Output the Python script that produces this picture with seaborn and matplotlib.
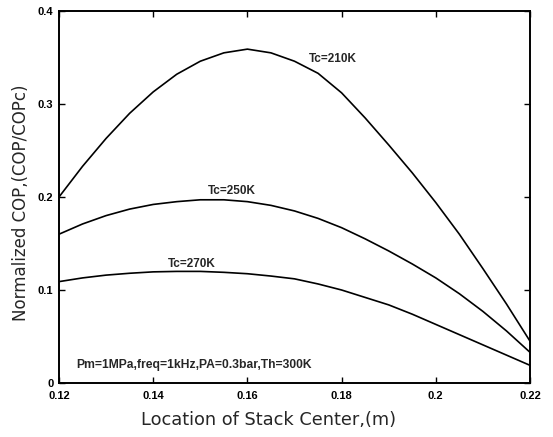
import matplotlib
matplotlib.use("Agg")
import matplotlib.pyplot as plt
import seaborn as sns
import pandas as pd

# stack centre location (m)
x_loc = [0.12, 0.125, 0.13, 0.135, 0.14, 0.145, 0.15, 0.155, 0.16, 0.165, 0.17,
         0.175, 0.18, 0.185, 0.19, 0.195, 0.20, 0.205, 0.21, 0.215, 0.22]

# normalized COP
cop_210 = [0.200, 0.233, 0.263, 0.290, 0.313, 0.332, 0.346, 0.355, 0.359, 0.355, 0.346,
           0.333, 0.312, 0.285, 0.256, 0.226, 0.194, 0.160, 0.123, 0.085, 0.045]
cop_250 = [0.160, 0.171, 0.180, 0.187, 0.192, 0.195, 0.197, 0.197, 0.195, 0.191, 0.185,
           0.177, 0.167, 0.155, 0.142, 0.128, 0.113, 0.096, 0.077, 0.056, 0.033]
cop_270 = [0.109, 0.113, 0.116, 0.118, 0.1195, 0.120, 0.120, 0.119, 0.1175, 0.115, 0.112,
           0.1065, 0.100, 0.092, 0.084, 0.074, 0.063, 0.052, 0.041, 0.030, 0.019]

curve_names = ["Tc=210K", "Tc=250K", "Tc=270K"]
label_x = [0.1781, 0.1566, 0.1481]
label_y = [0.348, 0.2065, 0.128]

xticks = [0.12, 0.14, 0.16, 0.18, 0.2, 0.22]
xtick_labels = ["0.12", "0.14", "0.16", "0.18", "0.2", "0.22"]
yticks = [0, 0.1, 0.2, 0.3, 0.4]
ytick_labels = ["0", "0.1", "0.2", "0.3", "0.4"]

note = "Pm=1MPa,freq=1kHz,PA=0.3bar,Th=300K"

sns.set_style("ticks")
plt.rcParams['font.family'] = ['DejaVu Sans']

df = pd.DataFrame({"x": x_loc, "Tc=210K": cop_210, "Tc=250K": cop_250, "Tc=270K": cop_270})

fig = plt.figure(figsize=(5.53, 4.37), dpi=100)
ax = fig.add_axes([59 / 553, 1 - 383 / 437, (530 - 59) / 553, (383 - 11) / 437])

for name in curve_names:
    sns.lineplot(data=df, x="x", y=name, color="black", linewidth=1.2, ax=ax)

ax.set_xlim(0.12, 0.22)
ax.set_ylim(0, 0.4)
ax.set_xticks(xticks)
ax.set_xticklabels(xtick_labels, fontfamily="Liberation Sans", fontweight="bold", fontsize=8)
ax.set_yticks(yticks)
ax.set_yticklabels(ytick_labels, fontfamily="Liberation Sans", fontweight="bold", fontsize=8)
ax.tick_params(direction="in", length=4, width=1, top=True, right=True, colors="black")
ax.tick_params(axis="x", pad=6)
ax.tick_params(axis="y", pad=4)
for s in ax.spines.values():
    s.set_linewidth(1.4)
    s.set_color("black")

ax.set_xlabel("Location of Stack Center,(m)", fontsize=12.8)
ax.xaxis.set_label_coords(0.444, -0.075)
ax.set_ylabel("Normalized COP,(COP/COPc)", fontsize=12)
ax.yaxis.set_label_coords(-0.062, 0.484)

for name, lx, ly in zip(curve_names, label_x, label_y):
    ax.text(lx, ly, name, ha="center", va="center", fontsize=8.5,
            fontfamily="Liberation Sans", fontweight="bold")
ax.text(0.1236, 0.019, note, ha="left", va="center", fontsize=8.7,
        fontfamily="Liberation Sans", fontweight="bold")

fig.savefig("out.png", dpi=100, facecolor="white")
